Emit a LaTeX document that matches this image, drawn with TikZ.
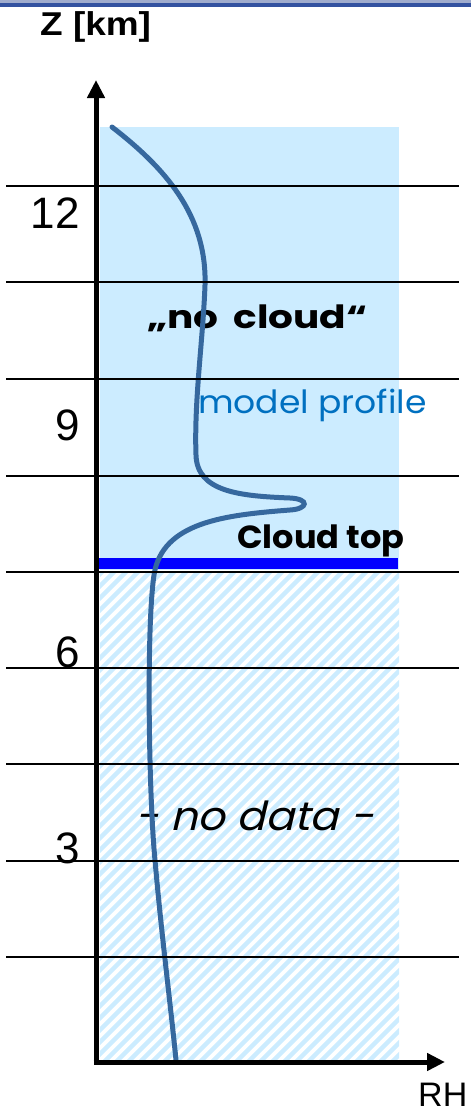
\documentclass[tikz,border=0pt]{standalone}
\usepackage{fontspec}
\setmainfont{Liberation Sans}
\newfontfamily\comic{Poppins}[ItalicFont=Poppins, ItalicFeatures={FakeSlant=0.22}]
\usetikzlibrary{arrows.meta}
\definecolor{topbar}{RGB}{51,82,160}
\definecolor{topbarlight}{RGB}{160,172,205}
\definecolor{skyfill}{RGB}{204,236,255}
\definecolor{profile}{RGB}{54,104,158}
\definecolor{labelblue}{RGB}{0,112,192}
\tikzset{
  gridline/.style={black, line width=1.5pt},
  axisline/.style={black, line width=5pt, -{Triangle[length=18pt,width=17pt]}},
  ticklabel/.style={font=\fontsize{44}{44}\selectfont, anchor=base east, inner sep=0pt},
  comictext/.style={font=\comic\fontsize{32}{32}\selectfont, anchor=base west, inner sep=0pt},
  comicbold/.style={comictext, font=\comic\bfseries\fontsize{32}{32}\selectfont},
  hatchline/.style={skyfill, line width=4.5pt},
  profileline/.style={profile, line width=5pt, line cap=round}
}
\begin{document}
\begin{tikzpicture}[x=1pt,y=-1pt]
\useasboundingbox (0,0) rectangle (471,1111);
% top bar
\fill[topbarlight] (0,0) rectangle (471,2.5);
\fill[topbar] (0,2.5) rectangle (471,7);
% regions
\fill[skyfill] (100,127) rectangle (399,570);
\begin{scope}
  \clip (100,572) rectangle (399,1060);
  \foreach \a in {-420,-408,...,400} {
    \draw[hatchline] (\a,1070) -- (\a+520,550);
  }
\end{scope}
% cloud top bar
\fill[blue] (97,558) rectangle (398,569);
% texts
\node[comicbold] (nocloud) at (147,328) {\scalebox{1.22}[1]{„no\, cloud“}};
\node[comictext, text=labelblue] (model) at (198,413) {\scalebox{1.08}[1]{model profile}};
\node[comicbold] (cloudtop) at (237,548) {\scalebox{1.05}[1]{Cloud top}};
\node[comictext, font=\comic\itshape\fontsize{40}{40}\selectfont] (nodata) at (135,830) {\scalebox{1.07}[1]{- no data -}};
% profile curve
\draw[profileline] (112,127)
  .. controls (165,168) and (207,215) .. (205,285)
  .. controls (203,340) and (194,400) .. (196,455)
  .. controls (197,492) and (240,496) .. (290,498)
  .. controls (310,499) and (308,509) .. (290,510)
  .. controls (225,515) and (162,522) .. (154,575)
  .. controls (146,630) and (149,800) .. (155,860)
  .. controls (161,930) and (170,1000) .. (176,1060);
% grid lines
\foreach \y in {186,282,379,476,572,668,764,861,957} {
  \draw[gridline] (6,\y) -- (459,\y);
}
% tick labels
\node[ticklabel] (t12) at (80,228) {12};
\node[ticklabel] (t9) at (80,440) {9};
\node[ticklabel] (t6) at (80,667) {6};
\node[ticklabel] (t3) at (80,863) {3};
% axes
\coordinate (origin) at (96,1062);
\coordinate (ytip) at (96,80);
\coordinate (xtip) at (445,1062);
\draw[axisline] ([yshift=2.5pt]origin) -- (ytip);
\draw[axisline] ([xshift=-2.5pt]origin) -- (xtip);
% axis labels
\node[anchor=base west, inner sep=0pt, font=\bfseries\fontsize{33}{33}\selectfont] (zlabel) at (40,35) {\scalebox{1.12}[1]{Z [km]}};
\node[anchor=base west, inner sep=0pt, font=\fontsize{34}{34}\selectfont] (rhlabel) at (418,1106) {RH};
\end{tikzpicture}
\end{document}
